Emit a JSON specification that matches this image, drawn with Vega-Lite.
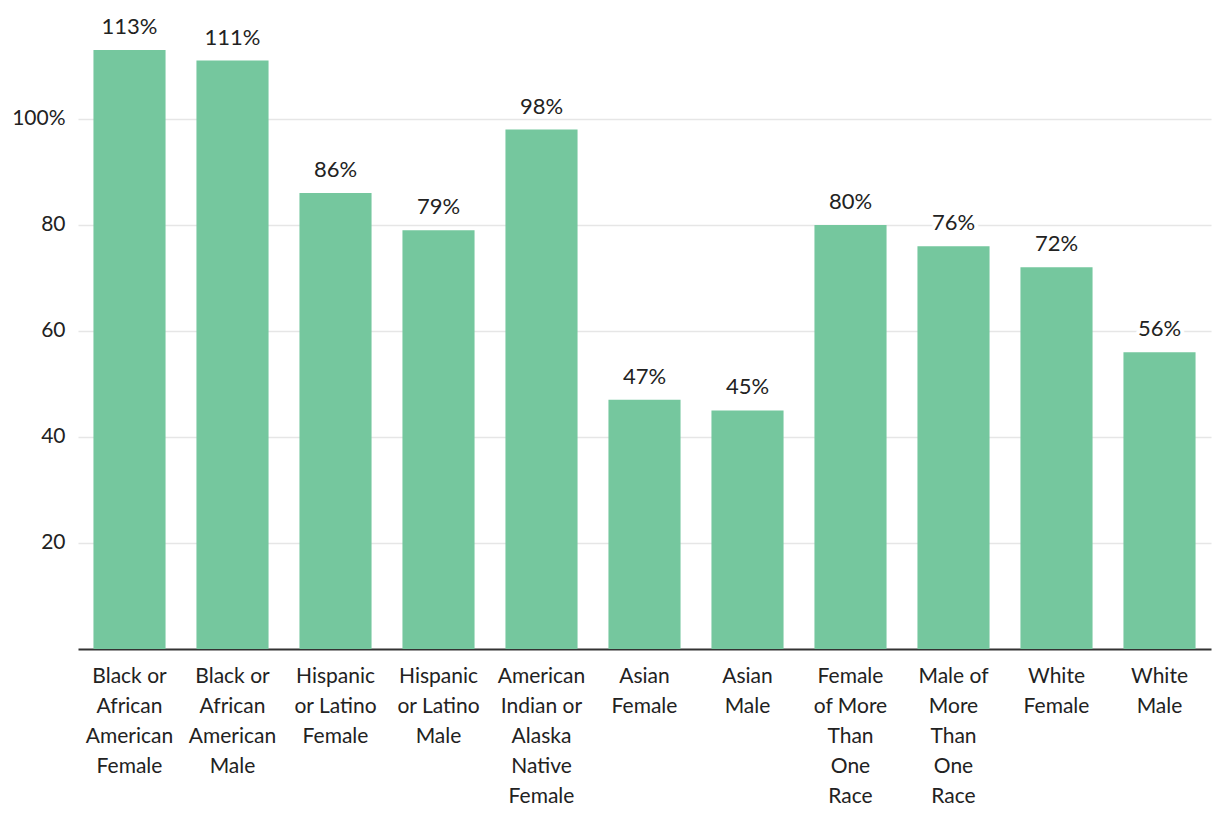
{
  "$schema": "https://vega.github.io/schema/vega-lite/v6.json",
  "autosize": {"type": "none"},
  "padding": {"left": 78, "top": 50, "right": 9, "bottom": 177},
  "width": 1133,
  "height": 599,
  "background": "white",
  "config": {
    "view": {"stroke": null},
    "font": "Lato",
    "text": {"font": "Lato"}
  },
  "data": {
    "values": [
      {"group": "Black or African American Female", "pct": 113},
      {"group": "Black or African American Male", "pct": 111},
      {"group": "Hispanic or Latino Female", "pct": 86},
      {"group": "Hispanic or Latino Male", "pct": 79},
      {"group": "American Indian or Alaska Native Female", "pct": 98},
      {"group": "Asian Female", "pct": 47},
      {"group": "Asian Male", "pct": 45},
      {"group": "Female of More Than One Race", "pct": 80},
      {"group": "Male of More Than One Race", "pct": 76},
      {"group": "White Female", "pct": 72},
      {"group": "White Male", "pct": 56}
    ]
  },
  "transform": [{"calculate": "datum.pct + '%'", "as": "lbl"}],
  "encoding": {
    "x": {
      "field": "group",
      "type": "nominal",
      "sort": null,
      "scale": {"paddingInner": 0.3, "paddingOuter": 0.15},
      "axis": {
        "title": null,
        "labelAngle": 0,
        "labelFont": "Lato",
        "labelFontSize": 21,
        "labelColor": "#222222",
        "labelLineHeight": 30,
        "labelPadding": 16,
        "labelLimit": 0,
        "ticks": false,
        "domainColor": "#333333",
        "domainWidth": 2,
        "labelExpr": "({'Black or African American Female': ['Black or','African','American','Female'], 'Black or African American Male': ['Black or','African','American','Male'], 'Hispanic or Latino Female': ['Hispanic','or Latino','Female'], 'Hispanic or Latino Male': ['Hispanic','or Latino','Male'], 'American Indian or Alaska Native Female': ['American','Indian or','Alaska','Native','Female'], 'Asian Female': ['Asian','Female'], 'Asian Male': ['Asian','Male'], 'Female of More Than One Race': ['Female','of More','Than','One','Race'], 'Male of More Than One Race': ['Male of','More','Than','One','Race'], 'White Female': ['White','Female'], 'White Male': ['White','Male']})[datum.value]"
      }
    },
    "y": {
      "field": "pct",
      "type": "quantitative",
      "scale": {"domain": [0, 113], "nice": false},
      "axis": {
        "title": null,
        "values": [20, 40, 60, 80, 100],
        "domain": false,
        "ticks": false,
        "grid": true,
        "gridColor": "#e6e6e6",
        "gridWidth": 1.5,
        "labelFont": "Lato",
        "labelFontSize": 21,
        "labelColor": "#222222",
        "labelPadding": 13,
        "labelExpr": "datum.value == 100 ? '100%' : datum.label"
      }
    }
  },
  "layer": [
    {
      "mark": {"type": "bar", "color": "#75c79e"}
    },
    {
      "mark": {"type": "text", "baseline": "bottom", "dy": -11, "fontSize": 22, "font": "Lato", "color": "white", "stroke": "white", "strokeWidth": 8, "strokeJoin": "round"},
      "encoding": {
        "text": {"field": "lbl", "type": "nominal"}
      }
    },
    {
      "mark": {"type": "text", "baseline": "bottom", "dy": -11, "fontSize": 22, "font": "Lato", "color": "#222222"},
      "encoding": {
        "text": {"field": "lbl", "type": "nominal"}
      }
    }
  ]
}
